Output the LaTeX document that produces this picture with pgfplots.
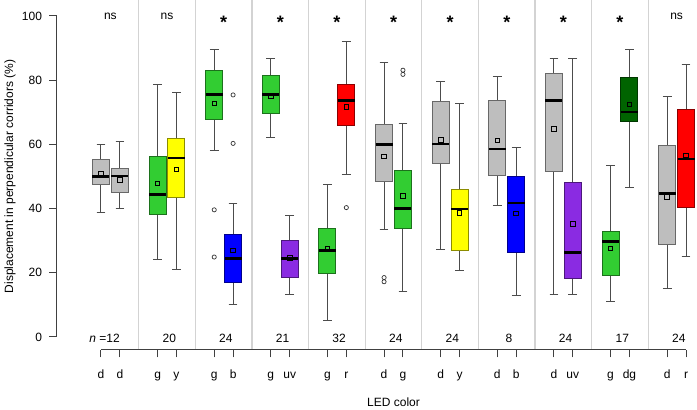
\documentclass[border=0pt]{standalone}
\usepackage{fontspec}
\setmainfont{Liberation Sans}
\usepackage{pgfplots}
\pgfplotsset{compat=1.18}
\usepgfplotslibrary{statistics}
\definecolor{cgray}{HTML}{BEBEBE}
\definecolor{cgreen}{HTML}{32CD32}
\definecolor{cyellow}{HTML}{FFFF00}
\definecolor{cblue}{HTML}{0000FF}
\definecolor{cuv}{HTML}{8A2BE2}
\definecolor{cred}{HTML}{FF0000}
\definecolor{cdg}{HTML}{006400}
\definecolor{sepc}{HTML}{D3D3D3}
\newcommand{\bx}[7]{\addplot[boxplot prepared={draw position=#1, lower whisker=#2, lower quartile=#3, median=#4, upper quartile=#5, upper whisker=#6}, fill=#7, draw=#7!55!black, line width=1pt] coordinates {};}
\newcommand{\fs}{\fontsize{12}{14}\selectfont}
\begin{document}
\begin{tikzpicture}
\useasboundingbox (-57pt,-60.2pt) rectangle (640pt,349.8pt);
\begin{axis}[
  at={(0,0)}, anchor=south west, scale only axis,
  width=640pt, height=346.68pt,
  xmin=-1.33, xmax=32.58, ymin=-4, ymax=104,
  clip=false,
  axis lines*=left,
  axis line style={draw=none},
  tick align=outside, major tick length=7.5pt,
  tick style={black!75, line width=1pt},
  xtick={1,2,4,5,7,8,10,11,13,14,16,17,19,20,22,23,25,26,28,29,31,32},
  xticklabels={},
  ytick={0,20,40,60,80,100},
  /pgf/number format/assume math mode=true,
  yticklabel style={font=\fs, xshift=-4pt},
  boxplot/draw direction=y,
  boxplot/box extend=0.9,
  boxplot/whisker extend=0.46,
  boxplot/every median/.style={black, line width=2.6pt},
  boxplot/every whisker/.style={black!70, line width=1pt},
]
\pgfplotsinvokeforeach{3,6,9,12,15,18,21,24,27,30}{
  \draw[sepc, line width=1.2pt] (axis cs:#1,-4) -- (axis cs:#1,105);
}
\draw[black!75, line width=1pt] (axis cs:-1.33,0) -- (axis cs:-1.33,100);
\draw[black!75, line width=1pt] (axis cs:1,-4) -- (axis cs:32,-4);

\bx{1}{38.9}{47.4}{50.0}{55.4}{60.0}{cgray}
\bx{2}{40.1}{44.9}{50.2}{52.4}{61.0}{cgray}
\bx{4}{24.2}{38.3}{44.4}{56.2}{78.8}{cgreen}
\bx{5}{21.1}{43.6}{55.7}{61.7}{76.1}{cyellow}
\bx{7}{58.2}{67.9}{75.6}{82.9}{89.7}{cgreen}
\bx{8}{10.2}{17.1}{24.4}{32.0}{41.7}{cblue}
\bx{10}{62.0}{69.7}{75.6}{81.4}{86.6}{cgreen}
\bx{11}{13.2}{18.6}{24.4}{30.2}{37.8}{cuv}
\bx{13}{5.0}{19.8}{27.0}{33.9}{47.4}{cgreen}
\bx{14}{50.7}{66.0}{73.7}{78.8}{92.0}{cred}
\bx{16}{33.4}{48.3}{60.0}{66.3}{85.5}{cgray}
\bx{17}{14.3}{33.9}{40.1}{51.8}{66.5}{cgreen}
\bx{19}{27.2}{54.0}{60.1}{73.2}{79.6}{cgray}
\bx{20}{20.6}{26.8}{39.9}{45.9}{72.6}{cyellow}
\bx{22}{40.9}{50.2}{58.5}{73.7}{81.0}{cgray}
\bx{23}{13.0}{26.3}{41.7}{49.9}{59.1}{cblue}
\bx{25}{13.2}{51.6}{73.6}{82.0}{86.6}{cgray}
\bx{26}{13.2}{18.2}{26.3}{48.2}{86.6}{cuv}
\bx{28}{10.9}{19.1}{29.8}{32.8}{53.3}{cgreen}
\bx{29}{46.5}{67.1}{70.1}{80.7}{89.5}{cdg}
\bx{31}{15.0}{28.8}{44.6}{59.8}{74.8}{cgray}
\bx{32}{25.0}{40.4}{55.5}{71.0}{85.0}{cred}

\addplot[only marks, mark=square, mark size=2.3pt, mark options={black, line width=0.8pt, fill=none}] coordinates {
(1,51.0) (2,48.9) (4,47.8) (5,52.2) (7,72.8) (8,27.0) (10,75.1) (11,24.7) (13,27.5) (14,71.6) (16,56.2) (17,43.9) (19,61.3) (20,38.7) (22,61.2) (23,38.5) (25,64.9) (26,35.2) (28,27.6) (29,72.4) (31,43.6) (32,56.5)};

\addplot[only marks, mark=o, mark size=2.1pt, mark options={black!80, line width=0.7pt}] coordinates {
(7,39.6) (7,24.9) (8,75.4) (8,60.3) (14,40.3) (16,18.5) (16,17.2) (17,83.1) (17,81.8)};

% x tick labels
\pgfplotsinvokeforeach{1/d,2/d,4/g,5/y,7/g,8/b,10/g,11/uv,13/g,14/r,16/d,17/g,19/d,20/y,22/d,23/b,25/d,26/uv,28/g,29/dg,31/d,32/r}{
  \pgfplotsextra{\foreach \p/\t in {#1}{\node[font=\fs, anchor=base, inner sep=0pt] at (axis cs:\p,-4) [yshift=-28.5pt] {\t};}}
}
% top significance labels
\pgfplotsinvokeforeach{1.5/ns,4.5/ns,31.5/ns}{
  \pgfplotsextra{\foreach \p/\t in {#1}{\node[font=\fs, anchor=base, inner sep=0pt] at (axis cs:\p,98.75) {\t};}}
}
\pgfplotsinvokeforeach{7.5,10.5,13.5,16.5,19.5,22.5,25.5,28.5}{
  \node[font=\fontsize{18}{18}\selectfont\bfseries, anchor=base, inner sep=0pt] at (axis cs:#1,96.0) {*};
}
% sample sizes
\node[font=\fs, anchor=base east, inner sep=0pt] at (axis cs:2.01,-1.8) {\textit{n} =12};
\pgfplotsinvokeforeach{4.62/20,7.62/24,10.62/21,13.62/32,16.62/24,19.62/24,22.62/8,25.62/24,28.62/17,31.62/24}{
  \pgfplotsextra{\foreach \p/\t in {#1}{\node[font=\fs, anchor=base, inner sep=0pt] at (axis cs:\p,-1.8) {\t};}}
}
\node[font=\fs, anchor=base, inner sep=0pt] at (axis cs:16.5,-21.7) {LED color};
\node[font=\fs, rotate=90, inner sep=0pt] at (axis cs:-3.82,50) {Displacement in perpendicular corridors (\%)};
\end{axis}
\end{tikzpicture}
\end{document}
